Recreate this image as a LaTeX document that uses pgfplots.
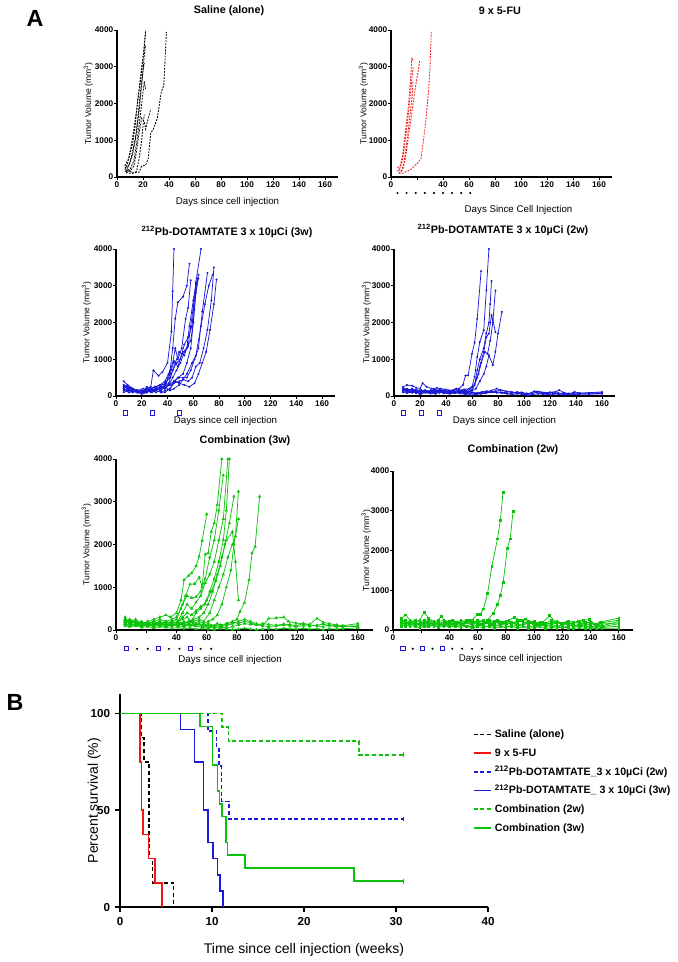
\documentclass[border=0pt]{standalone}
\usepackage{pgfplots}
\pgfplotsset{compat=1.18}
\usepackage{fontspec}
\setmainfont{Liberation Sans}
\definecolor{myblue}{RGB}{25,25,215}
\definecolor{mygreen}{RGB}{10,195,10}
\definecolor{myred}{RGB}{245,20,20}
\pgfplotsset{
  every axis title shift=0pt,
  small/.style={
    scale only axis, anchor=south west,
    axis lines=left, axis line style={-, line width=0.8pt},
    xmin=0, xmax=170, ymin=0, ymax=4000,
    xtick={0,20,...,160}, ytick={0,1000,2000,3000,4000},
    tick align=outside, major tick length=2pt, tick style={line width=0.7pt, black},
    tick label style={font=\fontsize{6.2}{7}\selectfont\bfseries},
    /pgf/number format/assume math mode=true,
    /pgf/number format/set thousands separator={},
    xticklabel style={inner sep=1pt}, yticklabel style={inner sep=0.6pt},
    title style={font=\fontsize{8.1}{9}\selectfont\bfseries, anchor=center},
    xlabel style={font=\fontsize{7.3}{8}\selectfont, anchor=center},
    ylabel style={font=\fontsize{6.4}{7}\selectfont, anchor=center},
    ylabel={Tumor Volume (mm\textsuperscript{3})},
    clip=false,
  },
  sk/.style={black, dash pattern=on 1.4pt off 0.9pt, line width=0.6pt},
  fr/.style={myred, dash pattern=on 1.4pt off 0.9pt, line width=0.6pt},
  bl/.style={myblue, mark=*, mark size=0.45pt, line width=0.55pt},
  gt/.style={mygreen, mark=triangle*, mark size=0.9pt, line width=0.55pt},
  gs/.style={mygreen, mark=square*, mark size=0.65pt, line width=0.55pt},
  dose/.style={only marks, mark=*, mark size=0.55pt, black},
  sq/.style={only marks, mark=square, mark size=1.6pt, draw=myblue, mark options={draw=myblue, line width=0.55pt}},
  km/.style={line width=1.25pt, const plot, line join=miter, line cap=butt},
}
\begin{document}
\begin{tikzpicture}
\useasboundingbox (0,0) rectangle (507.75pt,-721.5pt);
\node[font=\fontsize{17.5}{20}\selectfont\bfseries] at (26.25pt,-13.5pt) {A};
\node[font=\fontsize{17.5}{20}\selectfont\bfseries] at (11.25pt,-526.5pt) {B};

% ---------- P1 Saline
\begin{axis}[small, at={(87.75pt,-132.75pt)}, width=165.75pt, height=110.25pt,
  title={Saline (alone)}, title style={at={(axis description cs:0.507,1)}, yshift=14.5pt},
  xlabel={Days since cell injection}, xlabel style={at={(axis description cs:0.5,-0.17)}},
  ylabel style={at={(axis description cs:-0.13,0.5)}}]
\addplot[sk] coordinates {(6,300)(9,500)(12,900)(14,1400)(16,2100)(18,2600)(20,3200)(22,4000)};
\addplot[sk] coordinates {(6,200)(8,350)(11,850)(13,1300)(15,1800)(17,2400)(19,3000)(21,3500)(22,3950)};
\addplot[sk] coordinates {(7,150)(10,400)(12,700)(15,1200)(17,1800)(19,2500)(21,3300)(22,3600)};
\addplot[sk] coordinates {(6,250)(9,300)(12,600)(14,1000)(16,1600)(18,2300)(20,2900)(21,3100)};
\addplot[sk] coordinates {(7,100)(10,200)(13,450)(15,900)(17,1400)(19,2000)(21,2600)(22,2400)};
\addplot[sk] coordinates {(7,200)(10,150)(13,300)(15,700)(17,1200)(19,1600)(21,1500)(22,1300)(24,1600)(26,1850)};
\addplot[sk] coordinates {(6,150)(9,200)(12,100)(15,150)(17,500)(19,1000)(20,1400)(21,1700)};
\addplot[sk] coordinates {(7,150)(10,100)(13,120)(17,130)(19,300)(22,320)(24,500)(26,1200)(28,1300)(31,1600)(34,2300)(36,2500)(38,3950)};
\end{axis}

% ---------- P2 5-FU
\begin{axis}[small, at={(293.25pt,-132.75pt)}, width=165.75pt, height=110.25pt,
  xticklabels={0,,40,60,80,100,120,140,160},
  title={9 x 5-FU}, title style={at={(axis description cs:0.493,1)}, yshift=14.5pt},
  xlabel={Days Since Cell Injection}, xlabel style={at={(axis description cs:0.577,-0.224)}},
  ylabel style={at={(axis description cs:-0.125,0.5)}}]
\addplot[fr] coordinates {(5,250)(7,300)(9,600)(11,1200)(13,1800)(15,2600)(16,3250)(17,3150)};
\addplot[fr] coordinates {(5,150)(7,250)(9,500)(11,1000)(13,1600)(15,2300)(17,3000)};
\addplot[fr] coordinates {(6,200)(8,150)(10,400)(12,900)(14,1500)(16,2100)(17,2600)};
\addplot[fr] coordinates {(6,100)(9,200)(11,500)(13,1000)(15,1500)(17,2000)(19,2500)(21,2900)(22,3150)};
\addplot[fr] coordinates {(6,100)(9,100)(12,150)(15,200)(18,300)(21,400)(23,500)(25,1000)(27,1600)(29,2400)(30,3000)(31,3950)};
\addplot[dose] coordinates {(5,-435)(12,-435)(19,-435)(26,-435)(33,-435)(40,-435)(47,-435)(54,-435)(61,-435)};
\end{axis}

% ---------- P3 212Pb 3w
\begin{axis}[small, at={(87pt,-297pt)}, width=164.25pt, height=110.25pt,
  title={\textsuperscript{212}Pb-DOTAMTATE 3 x 10µCi (3w)}, title style={at={(axis description cs:0.507,1)}, yshift=13pt},
  xlabel={Days since cell injection}, xlabel style={at={(axis description cs:0.5,-0.17)}},
  ylabel style={at={(axis description cs:-0.135,0.5)}}]
\addplot[bl] coordinates {(6,250)(9,200)(13,150)(16,120)(20,100)(23,150)(27,250)(29,700)(33,550)(36,650)(40,900)(43,1750)(44,2850)(45,4000)};
\addplot[bl] coordinates {(6,200)(9,300)(13,200)(16,150)(20,120)(23,200)(27,200)(30,250)(34,300)(38,400)(42,700)(44,1300)(46,2100)(48,2550)(52,2700)(55,3000)(57,3600)};
\addplot[bl] coordinates {(6,300)(9,250)(13,150)(16,100)(20,150)(23,100)(27,150)(30,150)(34,200)(38,250)(41,600)(44,900)(46,1300)(48,1000)(51,1300)(54,2100)(56,2400)(58,3150)};
\addplot[bl] coordinates {(6,150)(9,200)(13,100)(16,150)(20,100)(23,120)(27,200)(30,150)(34,250)(38,200)(41,300)(44,500)(47,700)(50,900)(53,1200)(56,1350)(58,1900)(61,2700)(64,3300)};
\addplot[bl] coordinates {(6,400)(9,300)(13,200)(16,150)(20,100)(24,100)(27,150)(31,200)(34,200)(38,250)(41,350)(44,700)(47,900)(50,1000)(53,1400)(56,1600)(59,1900)(62,3100)(66,4000)};
\addplot[bl] coordinates {(6,200)(9,150)(13,150)(17,100)(20,150)(24,150)(27,100)(31,200)(35,250)(38,200)(41,300)(45,400)(48,500)(52,600)(55,900)(58,1300)(60,2000)(62,2800)(64,3200)};
\addplot[bl] coordinates {(6,250)(10,200)(13,150)(17,100)(20,50)(24,100)(27,200)(31,150)(35,100)(38,150)(42,200)(45,400)(49,500)(52,500)(55,500)(58,700)(61,1000)(64,1300)(67,2300)(71,3350)};
\addplot[bl] coordinates {(6,150)(10,100)(13,100)(17,150)(20,100)(24,150)(27,150)(31,200)(35,200)(38,300)(42,300)(45,350)(49,400)(52,450)(55,600)(59,900)(62,1100)(66,1900)(69,2500)(72,3000)(75,3300)};
\addplot[bl] coordinates {(6,100)(10,150)(13,120)(17,100)(20,100)(24,200)(27,150)(31,100)(35,150)(38,250)(42,150)(45,200)(49,300)(52,450)(56,400)(59,500)(62,800)(65,900)(68,1300)(71,1800)(74,2600)(76,3500)};
\addplot[bl] coordinates {(6,200)(10,100)(13,150)(17,100)(20,100)(24,100)(27,200)(31,250)(35,100)(38,100)(42,200)(46,400)(49,350)(53,300)(57,250)(61,350)(64,600)(67,900)(70,1200)(73,1800)(76,2500)(78,3170)};
\addplot[bl] coordinates {(6,250)(10,200)(13,200)(17,150)(21,200)(24,150)(28,100)(31,150)(35,200)(38,350)(42,500)(46,900)(49,1200)(53,1100)(56,1400)(58,1500)(60,2000)(62,2900)(63,3200)};
\addplot[bl] coordinates {(6,300)(9,250)(13,200)(17,150)(21,100)(24,250)(28,200)(31,250)(35,300)(39,350)(42,600)(45,950)(48,800)(51,1150)(55,1300)(57,1900)(60,2600)(62,3050)};
\addplot[sq] coordinates {(7,-462)(28,-462)(49,-462)};
\end{axis}

% ---------- P4 212Pb 2w
\begin{axis}[small, at={(295.5pt,-297pt)}, width=165.75pt, height=110.25pt,
  title={\textsuperscript{212}Pb-DOTAMTATE 3 x 10µCi (2w)}, title style={at={(axis description cs:0.493,1)}, yshift=14pt},
  xlabel={Days since cell injection}, xlabel style={at={(axis description cs:0.5,-0.17)}},
  ylabel style={at={(axis description cs:-0.125,0.5)}}]
\addplot[bl] coordinates {(7,250)(10,300)(14,280)(17,230)(20,200)(22,350)(25,250)(29,200)(33,220)(36,200)(40,180)(44,150)(48,200)(52,150)(56,120)(60,100)(64,80)(68,110)(72,120)(75,150)(79,200)(83,150)(87,120)(91,100)(95,110)(99,80)(103,60)(108,130)(112,110)(116,90)(120,100)(124,110)(127,160)(131,90)(135,60)(139,110)(143,80)(150,90)(160,110)};
\addplot[bl] coordinates {(7,200)(10,180)(14,150)(17,120)(20,50)(24,150)(27,100)(31,180)(35,150)(39,130)(43,120)(47,180)(51,100)(55,120)(58,60)(62,50)(66,80)(70,90)(74,100)(78,120)(82,100)(86,90)(90,70)(94,90)(98,50)(102,30)(106,80)(110,90)(114,60)(118,70)(122,50)(126,90)(130,40)(134,70)(138,60)(142,50)(150,60)(160,70)};
\addplot[bl] coordinates {(7,150)(10,130)(14,100)(17,80)(21,150)(24,120)(28,100)(32,130)(35,90)(39,110)(43,100)(47,80)(51,90)(55,60)(59,80)(63,70)(67,100)(71,130)(75,130)(78,130)(82,160)(86,130)(90,110)(94,80)(98,100)(102,70)(106,60)(110,120)(114,100)(118,80)(122,90)(126,70)(130,80)(134,50)(138,90)(142,70)(150,80)(160,90)};
\addplot[bl] coordinates {(7,100)(10,80)(14,120)(17,90)(21,60)(24,100)(28,80)(32,60)(35,100)(39,80)(43,60)(47,90)(51,70)(55,40)(59,20)(63,40)(67,60)(71,80)(75,100)(79,90)(83,80)(87,60)(91,40)(95,60)(99,50)(103,20)(107,40)(111,60)(115,50)(119,40)(123,60)(127,40)(131,30)(135,50)(139,40)(143,60)(150,50)(160,60)};
\addplot[bl] coordinates {(7,200)(10,150)(14,130)(17,150)(21,120)(24,100)(28,150)(31,120)(35,180)(38,150)(42,130)(46,150)(50,200)(53,300)(55,560)(57,560)(60,1150)(62,1450)(64,2100)(67,3400)};
\addplot[bl] coordinates {(7,180)(10,200)(14,150)(17,100)(21,130)(24,160)(28,120)(31,100)(35,140)(38,160)(42,110)(46,100)(50,120)(53,130)(55,150)(58,200)(60,250)(62,520)(64,1060)(66,1470)(69,1790)(71,2880)(73,4000)};
\addplot[bl] coordinates {(7,150)(10,120)(14,200)(17,150)(21,100)(24,120)(28,150)(31,180)(35,120)(38,100)(42,150)(46,120)(50,100)(54,90)(57,100)(60,150)(62,300)(64,700)(66,1000)(69,1300)(71,1700)(73,2000)(74,2500)(75,3130)};
\addplot[bl] coordinates {(7,220)(10,150)(14,180)(17,120)(21,160)(24,100)(28,130)(31,90)(35,110)(38,130)(42,90)(46,110)(50,150)(54,180)(58,200)(61,250)(64,500)(66,800)(69,1200)(71,1600)(73,1700)(75,2200)(76,2070)(78,1740)};
\addplot[bl] coordinates {(7,120)(10,100)(14,90)(17,110)(21,80)(24,130)(28,110)(31,150)(35,100)(38,80)(42,120)(46,90)(50,110)(54,130)(57,100)(59,150)(62,300)(65,600)(67,900)(70,1200)(72,1150)(74,1500)(76,2000)(78,2870)};
\addplot[bl] coordinates {(7,170)(10,140)(14,110)(17,180)(21,140)(24,90)(28,70)(31,110)(35,130)(38,110)(42,80)(46,130)(50,90)(54,110)(57,130)(60,150)(63,200)(66,400)(69,600)(71,800)(73,1110)(76,840)(78,1200)(80,1700)(83,2290)};
\addplot[sq] coordinates {(7,-462)(21,-462)(35,-462)};
\end{axis}

% ---------- P5 Combination 3w
\begin{axis}[small, at={(87pt,-472.5pt)}, width=192.75pt, height=128.25pt,
  xticklabels={0,,40,60,80,100,120,140,160},
  title={Combination (3w)}, title style={at={(axis description cs:0.502,1)}, yshift=13.5pt},
  xlabel={Days since cell injection}, xlabel style={at={(axis description cs:0.444,-0.178)}},
  ylabel style={at={(axis description cs:-0.115,0.5)}}]
\addplot[gt] coordinates {(6,250)(9,200)(13,180)(17,200)(21,150)(25,200)(29,250)(33,200)(37,150)(41,200)(45,150)(49,200)(53,150)(57,100)(61,100)(65,50)(69,80)(73,100)(77,150)(81,200)(85,250)(89,200)(93,150)(97,100)(101,270)(106,280)(111,300)(114,200)(119,160)(124,150)(128,130)(133,270)(137,180)(141,150)(146,120)(150,100)(160,150)};
\addplot[gt] coordinates {(6,200)(9,150)(13,120)(17,100)(21,120)(25,150)(29,100)(33,80)(37,120)(41,100)(45,80)(49,120)(53,100)(57,60)(61,50)(65,80)(69,60)(73,50)(77,80)(81,120)(85,150)(89,130)(93,120)(97,100)(101,80)(106,100)(111,120)(115,130)(119,100)(124,150)(128,120)(133,100)(137,80)(141,120)(146,100)(150,80)(160,100)};
\addplot[gt] coordinates {(6,100)(9,80)(13,100)(17,60)(21,80)(25,50)(29,80)(33,60)(37,40)(41,60)(45,30)(49,50)(53,20)(57,30)(61,20)(65,10)(69,30)(73,20)(77,10)(81,20)(85,40)(89,20)(93,10)(97,20)(101,30)(106,20)(111,40)(115,30)(119,20)(124,40)(128,20)(133,30)(137,10)(141,30)(146,20)(150,30)(160,50)};
\addplot[gt] coordinates {(6,180)(9,220)(13,150)(17,180)(21,120)(25,100)(29,150)(33,120)(37,100)(41,150)(45,120)(49,100)(53,130)(57,100)(61,150)(65,100)(69,120)(73,150)(77,180)(81,160)(85,200)(89,170)(93,120)(97,150)(101,130)(106,110)(111,140)(115,100)(119,80)(124,100)(128,90)(133,110)(137,140)(141,100)(146,80)(150,90)(160,80)};
\addplot[gt] coordinates {(6,250)(9,200)(13,180)(17,150)(21,200)(25,250)(29,300)(33,350)(36,300)(40,400)(43,700)(45,1170)(48,1270)(50,1330)(53,1500)(55,1720)(57,2090)(60,2710)};
\addplot[gt] coordinates {(6,200)(9,250)(13,200)(17,150)(21,120)(25,200)(29,150)(33,200)(37,250)(40,300)(43,500)(46,800)(49,1070)(52,1080)(55,1230)(57,1000)(59,1770)(61,1800)(63,2300)(65,2500)(67,2930)(70,4000)};
\addplot[gt] coordinates {(6,150)(9,200)(13,150)(17,100)(21,150)(25,100)(29,200)(33,150)(37,200)(40,250)(44,600)(47,800)(50,750)(53,780)(56,900)(59,1200)(62,1700)(65,2100)(68,2800)(71,3620)};
\addplot[gt] coordinates {(6,250)(9,200)(13,250)(17,150)(21,150)(25,200)(29,100)(33,150)(37,200)(40,150)(44,400)(47,600)(50,500)(53,650)(56,800)(59,1100)(62,1300)(65,1600)(68,2100)(71,2600)(74,4000)};
\addplot[gt] coordinates {(6,300)(9,150)(13,200)(17,100)(21,200)(25,150)(29,100)(33,200)(37,150)(41,200)(44,300)(47,400)(50,350)(53,450)(56,550)(59,600)(62,900)(65,1200)(68,1600)(71,2100)(73,2800)(75,4000)};
\addplot[gt] coordinates {(6,200)(10,150)(13,100)(17,150)(21,100)(25,150)(29,200)(33,100)(37,150)(41,200)(44,250)(47,300)(50,200)(53,400)(56,500)(60,700)(63,900)(66,1150)(69,1500)(72,2000)(75,2500)(78,3125)};
\addplot[gt] coordinates {(6,150)(10,100)(13,150)(17,100)(21,100)(25,150)(29,150)(33,100)(37,200)(41,150)(44,150)(48,200)(51,250)(55,300)(58,400)(61,600)(64,900)(67,1300)(70,1700)(73,2100)(77,2300)(79,1600)(81,700)};
\addplot[gt] coordinates {(6,200)(10,150)(13,100)(17,150)(21,150)(25,100)(29,100)(33,150)(37,100)(41,150)(45,200)(48,150)(51,200)(55,250)(58,200)(62,400)(65,700)(68,1000)(71,1300)(74,1700)(77,2000)(79,2200)(81,3240)};
\addplot[gt] coordinates {(6,100)(10,100)(13,150)(17,100)(21,100)(25,100)(29,150)(33,120)(37,150)(41,100)(45,150)(48,200)(51,150)(55,200)(58,150)(61,200)(64,250)(67,350)(70,600)(73,1000)(76,1400)(78,2000)(81,2600)};
\addplot[gt] coordinates {(6,150)(10,200)(14,150)(17,100)(21,150)(25,200)(29,150)(33,100)(37,100)(41,150)(45,100)(48,150)(52,100)(55,150)(59,100)(63,100)(67,150)(70,100)(74,150)(77,200)(80,250)(82,430)(85,640)(88,1170)(90,1800)(92,1950)(95,3125)};
\addplot[dose] coordinates {(14,-440)(21,-440)(35,-440)(42,-440)(56,-440)(63,-440)};
\addplot[sq] coordinates {(7,-421)(28,-421)(49,-421)};
\end{axis}

% ---------- P6 Combination 2w
\begin{axis}[small, at={(294.75pt,-472.5pt)}, width=180pt, height=119.25pt,
  xticklabels={0,,40,60,80,100,120,140,160},
  title={Combination (2w)}, title style={at={(axis description cs:0.5,1)}, yshift=15.75pt},
  xlabel={Days since cell injection}, xlabel style={at={(axis description cs:0.49,-0.185)}},
  ylabel style={at={(axis description cs:-0.112,0.5)}}]
\addplot[gs] coordinates {(6,300)(9,380)(12,250)(16,200)(19,250)(22,450)(25,300)(29,200)(32,250)(34,340)(38,200)(42,250)(46,200)(50,150)(54,250)(57,200)(62,150)(66,200)(70,150)(74,250)(78,200)(82,250)(86,320)(90,250)(94,280)(98,200)(102,150)(106,200)(111,360)(115,200)(119,150)(123,200)(127,150)(131,230)(135,250)(139,260)(143,150)(147,200)(160,300)};
\addplot[gs] coordinates {(6,200)(9,250)(12,200)(16,150)(19,180)(22,200)(25,150)(29,230)(32,150)(36,180)(40,150)(44,200)(48,180)(52,250)(56,150)(60,200)(64,250)(68,150)(72,200)(76,180)(80,200)(84,150)(88,250)(92,200)(96,150)(100,180)(104,120)(108,150)(112,250)(116,150)(120,180)(124,200)(128,100)(132,150)(136,200)(140,180)(144,120)(148,100)(160,220)};
\addplot[gs] coordinates {(6,150)(9,180)(12,120)(16,200)(19,100)(22,150)(25,200)(29,120)(32,180)(36,100)(40,150)(44,120)(48,200)(52,100)(56,150)(60,100)(64,150)(68,200)(72,100)(76,150)(80,120)(84,200)(88,100)(92,150)(96,220)(100,100)(104,150)(108,80)(112,150)(116,100)(120,120)(124,150)(128,80)(132,120)(136,100)(140,80)(144,100)(148,80)(160,160)};
\addplot[gs] coordinates {(6,100)(9,150)(12,80)(16,120)(19,150)(22,80)(25,120)(29,100)(32,80)(36,150)(40,100)(44,80)(48,120)(52,100)(56,80)(60,120)(64,100)(68,80)(72,130)(76,90)(80,100)(84,80)(88,120)(92,90)(96,100)(100,70)(104,100)(108,120)(112,80)(116,100)(120,60)(124,100)(128,120)(132,80)(136,100)(140,60)(144,80)(148,60)(160,100)};
\addplot[gs] coordinates {(6,250)(9,200)(12,180)(16,250)(19,200)(22,250)(25,180)(29,150)(32,200)(36,250)(40,200)(44,150)(48,250)(52,200)(56,180)(60,250)(64,200)(68,250)(72,200)(76,150)(80,230)(84,180)(88,200)(92,250)(96,200)(100,150)(104,200)(108,180)(112,150)(116,200)(120,150)(124,230)(128,180)(132,200)(136,150)(140,200)(144,150)(148,180)(160,250)};
\addplot[gs] coordinates {(6,130)(9,100)(12,150)(16,100)(19,50)(22,100)(25,80)(29,130)(32,60)(36,100)(40,80)(44,130)(48,60)(52,100)(56,50)(60,80)(64,60)(68,100)(72,50)(76,80)(80,60)(84,100)(88,50)(92,80)(96,40)(100,60)(104,80)(108,40)(112,60)(116,50)(120,80)(124,50)(128,40)(132,60)(136,40)(140,50)(144,30)(148,40)(160,50)};
\addplot[gs] coordinates {(6,180)(9,150)(12,220)(16,150)(19,120)(22,180)(25,250)(29,180)(32,150)(36,200)(40,230)(44,180)(48,150)(52,200)(56,230)(60,180)(64,150)(68,180)(72,220)(76,200)(80,150)(84,180)(88,150)(92,120)(96,180)(100,220)(104,150)(108,130)(112,180)(116,230)(120,170)(124,140)(128,200)(132,160)(136,120)(140,150)(144,130)(148,150)(160,180)};
\addplot[gs] coordinates {(6,250)(9,200)(12,150)(16,180)(19,120)(22,200)(25,150)(29,100)(32,150)(36,200)(40,150)(44,180)(48,150)(52,200)(56,250)(60,400)(62,395)(64,530)(67,920)(70,1610)(74,2290)(76,2750)(78,3470)};
\addplot[gs] coordinates {(6,220)(9,180)(12,150)(16,120)(19,180)(22,150)(25,120)(29,180)(32,130)(36,150)(40,120)(44,150)(48,120)(52,180)(56,150)(60,200)(64,150)(67,250)(71,420)(74,650)(76,870)(78,1190)(81,2060)(83,2290)(85,2980)};
\addplot[dose] coordinates {(14,-470)(28,-470)(42,-470)(49,-470)(56,-470)(63,-470)};
\addplot[sq] coordinates {(7,-453)(21,-453)(35,-453)};
\end{axis}

% ---------- B survival
\begin{axis}[scale only axis, anchor=south west, at={(90pt,-680.25pt)}, width=276pt, height=159.75pt,
  xmin=0, xmax=40, ymin=0, ymax=110, xtick={0,10,...,40}, ytick={0,50,100},
  axis lines=left, axis line style={-, line width=1.3pt},
  tick align=outside, major tick length=4pt, tick style={line width=1.1pt, black},
  tick label style={font=\fontsize{8.7}{10}\selectfont\bfseries},
  /pgf/number format/assume math mode=true,
  xlabel={Time since cell injection (weeks)}, ylabel={Percent survival (\%)},
  xlabel style={font=\fontsize{10.5}{12}\selectfont, at={(axis description cs:0.5,-0.2)}, anchor=center},
  ylabel style={font=\fontsize{10.5}{12}\selectfont, at={(axis description cs:-0.07,0.5)}, anchor=center},
  legend style={draw=none, fill=none, at={(axis description cs:0.958,0.842)}, anchor=north west,
    font=\fontsize{8}{9}\selectfont\bfseries, cells={anchor=west}, inner sep=0pt,
    nodes={inner xsep=2.5pt, inner ysep=1pt, text height=6.5pt, text depth=1.5pt}, row sep=4pt},
  legend image code/.code={\draw[line width=1.25pt] (0cm,0cm) -- (0.45cm,0cm);},
  clip=false]
\addplot[km, solid, black, dash pattern=on 3pt off 2pt] coordinates {(0,100)(2.35,87.5)(2.64,75)(3.15,25)(3.55,12.5)(5.83,0)};
\addlegendentry{Saline (alone)}
\addplot[km, solid, color=myred] coordinates {(0,100)(2.17,75)(2.35,50)(2.5,37.5)(3.08,25)(3.8,12.5)(4.57,0)};
\addlegendentry{9 x 5-FU}
\addplot[km, color=myblue, dash pattern=on 3pt off 2pt] coordinates {(0,100)(9.53,90.9)(10.5,81.8)(10.76,72.7)(11.05,54.5)(11.85,45.5)(30.8,45.5)};
\addlegendentry{\textsuperscript{212}Pb-DOTAMTATE\_3 x 10µCi (2w)}
\addplot[km, solid, color=myblue] coordinates {(0,100)(6.56,91.7)(8.08,75)(9.06,50)(9.6,33.3)(10.14,25)(10.58,16.7)(10.87,8.3)(11.16,0)};
\addlegendentry{\textsuperscript{212}Pb-DOTAMTATE\_ 3 x 10µCi (3w)}
\addplot[km, color=mygreen, dash pattern=on 3pt off 2pt] coordinates {(0,100)(11.09,92.9)(11.8,85.7)(26.0,78.6)(30.8,78.6)};
\addlegendentry{Combination (2w)}
\addplot[km, solid, color=mygreen] coordinates {(0,100)(8.7,93.3)(10.07,73.3)(10.58,60)(10.8,53.3)(11.09,46.7)(11.52,33.3)(11.67,26.7)(13.6,20)(25.4,13.3)(30.8,13.3)};
\addlegendentry{Combination (3w)}
\addplot[forget plot, only marks, mark=|, mark size=1.8pt, line width=0.8pt, myblue] coordinates {(30.8,45.5)};
\addplot[forget plot, only marks, mark=|, mark size=1.8pt, line width=0.8pt, mygreen] coordinates {(30.8,78.6)(30.8,13.3)};
\end{axis}
\end{tikzpicture}
\end{document}
